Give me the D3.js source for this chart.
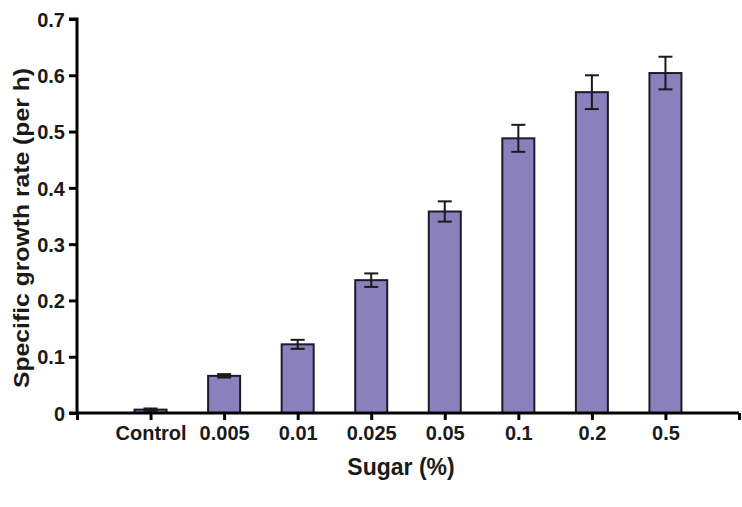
<!DOCTYPE html>
<html>
<head>
<meta charset="utf-8">
<script src="https://cdn.jsdelivr.net/npm/d3@7"></script>
<style>
  body { margin: 0; background: #fff; }
  text { font-family: "Liberation Sans", Arial, sans-serif; font-weight: bold; fill: #1a1a1a; }
</style>
</head>
<body>
<div id="chart"></div>
<script>
const categories = ["Control", "0.005", "0.01", "0.025", "0.05", "0.1", "0.2", "0.5"]
const rates = [0.006, 0.066, 0.122, 0.236, 0.358, 0.488, 0.570, 0.604]
const errors = [0.002, 0.003, 0.008, 0.012, 0.018, 0.024, 0.030, 0.029]
const yTicks = [0, 0.1, 0.2, 0.3, 0.4, 0.5, 0.6, 0.7]

const W = 742, H = 507
const MARGIN = { TOP: 19, BOTTOM: 94, LEFT: 77, RIGHT: 3 }
const WIDTH = W - MARGIN.LEFT - MARGIN.RIGHT
const HEIGHT = H - MARGIN.TOP - MARGIN.BOTTOM

const svg = d3.select("#chart").append("svg")
  .attr("width", W).attr("height", H)

const g = svg.append("g")
  .attr("transform", `translate(${MARGIN.LEFT}, ${MARGIN.TOP})`)

// positions 0..9, categories sit at 1..8
const x = d3.scaleLinear().domain([0, categories.length + 1]).range([0, WIDTH])
const y = d3.scaleLinear().domain([0, 0.7]).range([HEIGHT, 0])
const barW = 32

// bars
g.selectAll("rect.bar")
  .data(rates)
  .enter().append("rect")
    .attr("class", "bar")
    .attr("x", (d, i) => x(i + 1) - barW / 2)
    .attr("y", d => y(d))
    .attr("width", barW)
    .attr("height", d => y(0) - y(d))
    .attr("fill", "#8a80bb")
    .attr("stroke", "#1e1a2a")
    .attr("stroke-width", 2)

// error bars
const eb = g.selectAll("g.err")
  .data(rates)
  .enter().append("g")
    .attr("class", "err")
    .attr("stroke", "#1a1a1a")
    .attr("stroke-width", 2)

eb.append("line")
  .attr("x1", (d, i) => x(i + 1)).attr("x2", (d, i) => x(i + 1))
  .attr("y1", (d, i) => y(d + errors[i])).attr("y2", (d, i) => y(d - errors[i]))
eb.append("line")
  .attr("x1", (d, i) => x(i + 1) - 7).attr("x2", (d, i) => x(i + 1) + 7)
  .attr("y1", (d, i) => y(d + errors[i])).attr("y2", (d, i) => y(d + errors[i]))
eb.append("line")
  .attr("x1", (d, i) => x(i + 1) - 7).attr("x2", (d, i) => x(i + 1) + 7)
  .attr("y1", (d, i) => y(d - errors[i])).attr("y2", (d, i) => y(d - errors[i]))

// y axis
const yAxis = g.append("g")
  .call(d3.axisLeft(y).tickValues(yTicks).tickSize(8).tickPadding(4)
    .tickFormat(d => d === 0 ? "0" : d3.format(".1f")(d)))
yAxis.select(".domain").attr("stroke-width", 3).attr("d", `M0,${HEIGHT + 1}V0H-8`)
yAxis.selectAll(".tick line").attr("stroke-width", 3)
yAxis.selectAll(".tick text").attr("font-size", 20).attr("dy", "0.36em")

// x axis
const xAxis = g.append("g")
  .attr("transform", `translate(0, ${HEIGHT})`)
  .call(d3.axisBottom(x).tickValues(d3.range(0, categories.length + 2)).tickSize(7).tickPadding(6)
    .tickFormat(d => categories[d - 1] || ""))
xAxis.select(".domain").attr("stroke-width", 3).attr("d", `M-8,0H${WIDTH}`)
xAxis.selectAll(".tick line").attr("stroke-width", 3)
xAxis.selectAll(".tick text").attr("font-size", 20)

// axis titles
g.append("text")
  .attr("x", -(228 - MARGIN.TOP))
  .attr("y", -48)
  .attr("transform", "rotate(-90)")
  .attr("text-anchor", "middle")
  .attr("font-size", 22)
  .attr("textLength", 320)
  .attr("lengthAdjust", "spacingAndGlyphs")
  .text("Specific growth rate (per h)")

g.append("text")
  .attr("x", 401 - MARGIN.LEFT)
  .attr("y", HEIGHT + 62)
  .attr("text-anchor", "middle")
  .attr("font-size", 23)
  .text("Sugar (%)")
</script>
</body>
</html>
